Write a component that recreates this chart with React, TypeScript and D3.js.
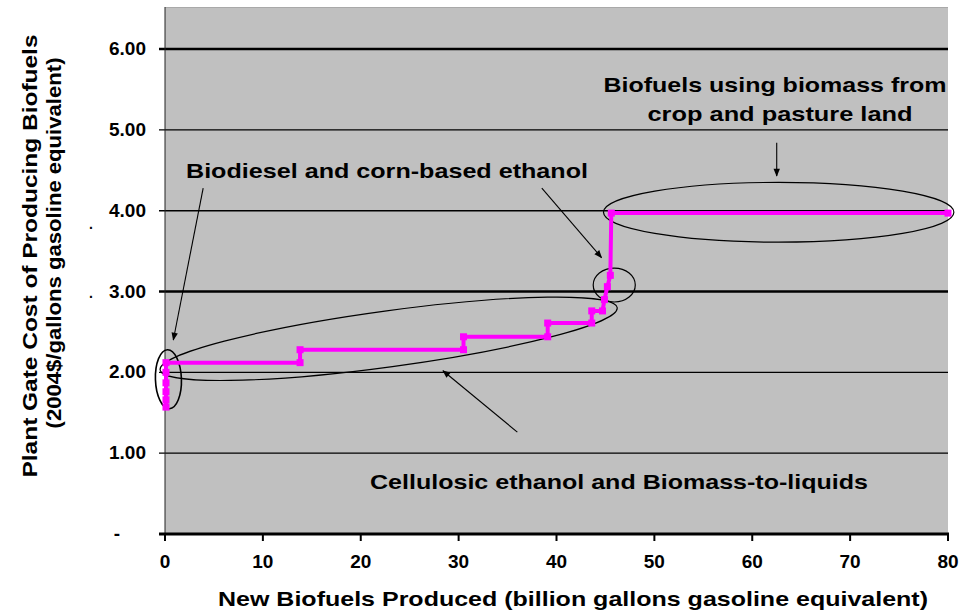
import React from "react";
import * as d3 from "d3";

// ---- data ----
const xTicks = [0, 10, 20, 30, 40, 50, 60, 70, 80];
const yTicks = [0, 1, 2, 3, 4, 5, 6];
const yTickLabels = ["-", "1.00", "2.00", "3.00", "4.00", "5.00", "6.00"];

// step supply curve vertices (billion gal gasoline eq., 2004$/gal)
const supplyQty = [0.1, 0.1, 0.1, 0.1, 0.1, 0.1, 13.8, 13.8, 30.5, 30.5, 39.1, 39.1, 43.6, 43.6, 44.7, 44.9, 45.2, 45.5, 45.6, 80.0];
const supplyCost = [1.57, 1.66, 1.76, 1.87, 2.0, 2.12, 2.12, 2.28, 2.28, 2.44, 2.44, 2.61, 2.61, 2.76, 2.76, 2.9, 3.06, 3.2, 3.97, 3.97];

const xTitle = "New Biofuels Produced (billion gallons gasoline equivalent)";
const yTitleLines = ["Plant Gate Cost of Producing Biofuels", "(2004$/gallons gasoline equivalent)"];

const noteBiomass = ["Biofuels using biomass from", "crop and pasture land"];
const noteCorn = "Biodiesel and corn-based ethanol";
const noteCellulosic = "Cellulosic ethanol and Biomass-to-liquids";

const W = 959;
const H = 615;
const FONT = "'Liberation Sans', Arial, sans-serif";
const MAGENTA = "#FF00FF";

export default function App() {
  const x = d3.scaleLinear().domain([0, 80]).range([165, 948]);
  const y = d3.scaleLinear().domain([0, 6.52]).range([534, 7]);

  const pts: [number, number][] = supplyQty.map((q, i) => [x(q), y(supplyCost[i])]);
  const line = d3.line<[number, number]>().x((d) => d[0]).y((d) => d[1]);

  const tilted = (x1: number, y1: number, x2: number, y2: number, b: number) => {
    const px1 = x(x1), py1 = y(y1), px2 = x(x2), py2 = y(y2);
    const cx = (px1 + px2) / 2, cy = (py1 + py2) / 2;
    const a = Math.hypot(px2 - px1, py2 - py1) / 2;
    const ang = (Math.atan2(py2 - py1, px2 - px1) * 180) / Math.PI;
    return { cx, cy, a, b, ang };
  };
  const bigEll = tilted(-0.5, 2.03, 46.2, 2.8, 28);
  const leftEll = tilted(0.25, 2.28, 0.45, 1.55, 13);

  const arrows = [
    { x1: 3.9, y1: 4.28, x2: 0.85, y2: 2.4 },
    { x1: 38.5, y1: 4.28, x2: 44.6, y2: 3.42 },
    { x1: 62.5, y1: 4.84, x2: 62.5, y2: 4.43 },
    { x1: 36.0, y1: 1.26, x2: 28.4, y2: 2.02 },
  ];

  const txt = { fontSize: 21, fontWeight: "bold" as const, lengthAdjust: "spacingAndGlyphs" };

  return (
    <svg width={W} height={H} style={{ position: "absolute", left: 0, top: 0, background: "#fff" }} fontFamily={FONT}>
      <defs>
        <marker id="ah" viewBox="0 0 10 10" refX="9" refY="5" markerWidth="9" markerHeight="8" orient="auto" markerUnits="userSpaceOnUse">
          <path d="M0,1 L10,5 L0,9 Z" fill="#000" />
        </marker>
      </defs>

      {/* plot background */}
      <rect x={x(0)} y={y(6.52)} width={x(80) - x(0)} height={y(0) - y(6.52)} fill="#C0C0C0" />
      <line x1={x(0)} x2={x(80)} y1={y(6.52) + 0.5} y2={y(6.52) + 0.5} stroke="#a9a9a9" strokeWidth={1} />

      {/* gridlines + y ticks */}
      {yTicks.filter((t) => t > 0).map((t) => (
        <line key={"g" + t} x1={159} x2={x(80)} y1={y(t)} y2={y(t)} stroke="#000" strokeWidth={t === 6 || t === 3 ? 2.6 : 1.4} />
      ))}

      {/* left axis */}
      <line x1={x(0)} x2={x(0)} y1={y(6.52)} y2={y(0)} stroke="#222" strokeWidth={1} />
      {/* bottom axis */}
      <line x1={159} x2={x(80) + 1} y1={y(0)} y2={y(0)} stroke="#000" strokeWidth={3} />
      {xTicks.map((t) => (
        <line key={"xt" + t} x1={x(t)} x2={x(t)} y1={y(0)} y2={y(0) + 7} stroke="#000" strokeWidth={2} />
      ))}

      {/* y tick labels */}
      {yTicks.map((t, i) =>
        t === 0 ? (
          <text key={"yl" + t} x={117} y={y(t) + 6} textAnchor="middle" fontSize={19} fontWeight="bold">
            {yTickLabels[i]}
          </text>
        ) : (
          <text key={"yl" + t} x={146} y={y(t) + 6} textAnchor="end" fontSize={19} fontWeight="bold">
            {yTickLabels[i]}
          </text>
        )
      )}
      {/* x tick labels */}
      {xTicks.map((t) => (
        <text key={"xl" + t} x={x(t)} y={568} textAnchor="middle" fontSize={19} fontWeight="bold">
          {t}
        </text>
      ))}

      {/* stray dots near y axis */}
      <text x={91} y={y(3.8) + 2} textAnchor="middle" fontSize={14} fontWeight="bold">.</text>
      <text x={91} y={y(2.94) + 2} textAnchor="middle" fontSize={14} fontWeight="bold">.</text>

      {/* axis titles */}
      <text x={573} y={606} textAnchor="middle" textLength={710} {...txt}>
        {xTitle}
      </text>
      <text transform={`translate(37,256) rotate(-90)`} textAnchor="middle" textLength={443} {...txt}>
        {yTitleLines[0]}
      </text>
      <text transform={`translate(61,243) rotate(-90)`} textAnchor="middle" textLength={371} {...txt}>
        {yTitleLines[1]}
      </text>

      {/* annotation ellipses */}
      <ellipse
        cx={bigEll.cx}
        cy={bigEll.cy}
        rx={bigEll.a}
        ry={bigEll.b}
        transform={`rotate(${bigEll.ang} ${bigEll.cx} ${bigEll.cy})`}
        fill="none"
        stroke="#000"
        strokeWidth={1.2}
      />
      <ellipse
        cx={leftEll.cx}
        cy={leftEll.cy}
        rx={leftEll.a}
        ry={leftEll.b}
        transform={`rotate(${leftEll.ang} ${leftEll.cx} ${leftEll.cy})`}
        fill="none"
        stroke="#000"
        strokeWidth={1.6}
      />
      <ellipse cx={x(62.7)} cy={y(3.98)} rx={x(80.6) - x(62.7)} ry={y(3.61) - y(3.98)} fill="none" stroke="#000" strokeWidth={1.2} />
      <ellipse cx={x(45.9)} cy={y(3.08)} rx={x(48.05) - x(45.9)} ry={y(2.87) - y(3.08)} fill="none" stroke="#000" strokeWidth={1.2} />

      {/* supply curve */}
      <path d={line(pts) || ""} fill="none" stroke={MAGENTA} strokeWidth={4} />
      {pts.map((p, i) => (
        <rect key={"m" + i} x={p[0] - 3.5} y={p[1] - 3.5} width={7} height={7} fill={MAGENTA} />
      ))}

      {/* arrows */}
      {arrows.map((a, i) => (
        <line key={"ar" + i} x1={x(a.x1)} y1={y(a.y1)} x2={x(a.x2)} y2={y(a.y2)} stroke="#000" strokeWidth={1.1} markerEnd="url(#ah)" />
      ))}

      {/* annotation texts */}
      <text x={775} y={92} textAnchor="middle" textLength={343} {...txt}>{noteBiomass[0]}</text>
      <text x={780} y={121} textAnchor="middle" textLength={265} {...txt}>{noteBiomass[1]}</text>
      <text x={186} y={178} textLength={402} {...txt}>{noteCorn}</text>
      <text x={619} y={489} textAnchor="middle" textLength={498} {...txt}>{noteCellulosic}</text>
    </svg>
  );
}
